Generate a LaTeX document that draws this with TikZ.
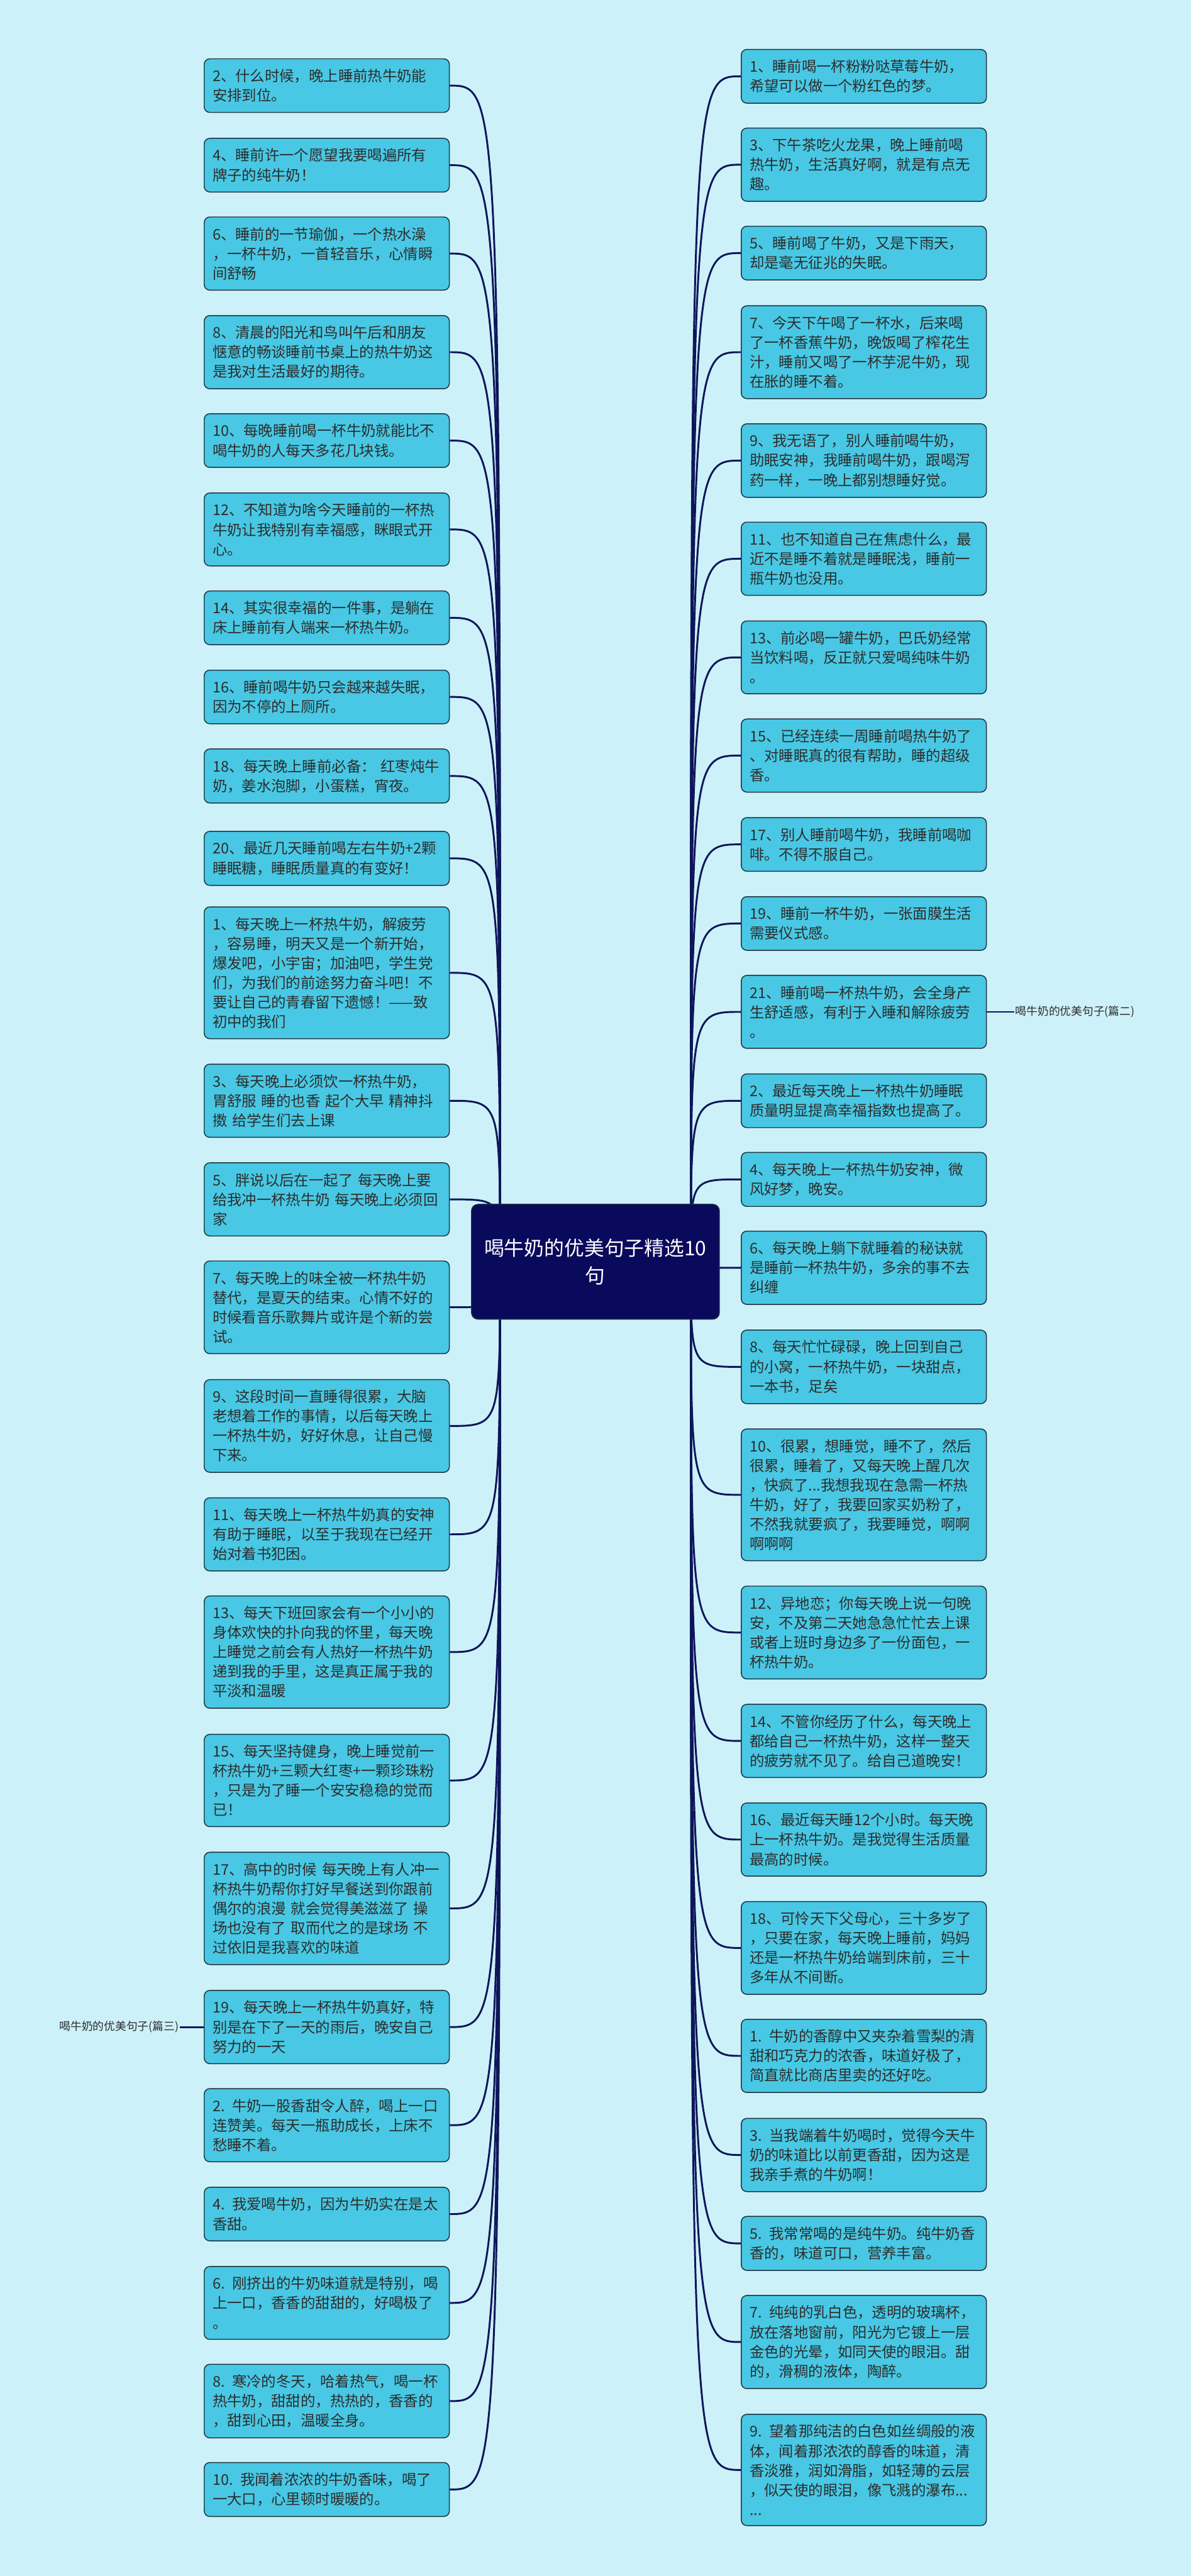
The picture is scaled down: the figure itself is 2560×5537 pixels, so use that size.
\documentclass[tikz,border=0pt]{standalone}
\usepackage{fontspec}
\usepackage{tikz}
\newfontfamily\cjk{Noto Sans CJK SC}
\definecolor{bgcyan}{RGB}{205,241,249}
\definecolor{leafcyan}{RGB}{72,200,228}
\definecolor{leafline}{RGB}{30,52,64}
\definecolor{linknavy}{RGB}{14,22,90}
\definecolor{rootnavy}{RGB}{10,10,92}
\definecolor{inkgray}{RGB}{45,45,45}

\begin{document}
\begin{tikzpicture}[x=0.5pt,y=-0.5pt,
    leaf/.style={draw=leafline, line width=1pt, fill=leafcyan, rounded corners=6pt,
        text=inkgray, font=\cjk\fontsize{15.8}{21}\selectfont, align=left,
        text width=245.5pt, inner xsep=9pt, inner ysep=11pt},
    root/.style={draw=leafline, line width=0.9pt, fill=rootnavy, rounded corners=7pt,
        text=white, font=\cjk\fontsize{21.5}{30}\selectfont, align=center,
        minimum width=266.5pt, minimum height=123.5pt},
    tag/.style={font=\cjk\fontsize{12}{14}\selectfont, text=inkgray, inner sep=1pt},
    link/.style={draw=linknavy, line width=2pt}]

    % Page and background
    \useasboundingbox (0,0) rectangle (2560,5537);
    \fill[bgcyan] (0,0) rectangle (2560,5537);

    % Left column
    \foreach \i/\y/\t in {
        1/184/{2、什么时候，晚上睡前热牛奶能\\安排到位。},
        2/355/{4、睡前许一个愿望我要喝遍所有\\牌子的纯牛奶！},
        3/545/{6、睡前的一节瑜伽，一个热水澡\\，一杯牛奶，一首轻音乐，心情瞬\\间舒畅},
        4/757/{8、清晨的阳光和鸟叫午后和朋友\\惬意的畅谈睡前书桌上的热牛奶这\\是我对生活最好的期待。},
        5/947/{10、每晚睡前喝一杯牛奶就能比不\\喝牛奶的人每天多花几块钱。},
        6/1138/{12、不知道为啥今天睡前的一杯热\\牛奶让我特别有幸福感，眯眼式开\\心。},
        7/1328/{14、其实很幸福的一件事，是躺在\\床上睡前有人端来一杯热牛奶。},
        8/1498/{16、睡前喝牛奶只会越来越失眠，\\因为不停的上厕所。},
        9/1668/{18、每天晚上睡前必备： 红枣炖牛\\奶，姜水泡脚，小蛋糕，宵夜。},
        10/1845/{20、最近几天睡前喝左右牛奶+2颗\\睡眠糖，睡眠质量真的有变好！},
        11/2091/{1、每天晚上一杯热牛奶，解疲劳\\，容易睡，明天又是一个新开始，\\爆发吧，小宇宙；加油吧，学生党\\们，为我们的前途努力奋斗吧！不\\要让自己的青春留下遗憾！——致\\初中的我们},
        12/2366/{3、每天晚上必须饮一杯热牛奶，\\胃舒服 睡的也香 起个大早 精神抖\\擞 给学生们去上课},
        13/2578/{5、胖说以后在一起了 每天晚上要\\给我冲一杯热牛奶 每天晚上必须回\\家},
        14/2810/{7、每天晚上的味全被一杯热牛奶\\替代，是夏天的结束。心情不好的\\时候看音乐歌舞片或许是个新的尝\\试。},
        15/3065/{9、这段时间一直睡得很累，大脑\\老想着工作的事情，以后每天晚上\\一杯热牛奶，好好休息，让自己慢\\下来。},
        16/3298/{11、每天晚上一杯热牛奶真的安神\\有助于睡眠，以至于我现在已经开\\始对着书犯困。},
        17/3551/{13、每天下班回家会有一个小小的\\身体欢快的扑向我的怀里，每天晚\\上睡觉之前会有人热好一杯热牛奶\\递到我的手里，这是真正属于我的\\平淡和温暖},
        18/3827/{15、每天坚持健身，晚上睡觉前一\\杯热牛奶+三颗大红枣+一颗珍珠粉\\，只是为了睡一个安安稳稳的觉而\\已！},
        19/4102/{17、高中的时候 每天晚上有人冲一\\杯热牛奶帮你打好早餐送到你跟前\\偶尔的浪漫 就会觉得美滋滋了 操\\场也没有了 取而代之的是球场 不\\过依旧是我喜欢的味道},
        20/4357/{19、每天晚上一杯热牛奶真好，特\\别是在下了一天的雨后，晚安自己\\努力的一天},
        21/4568/{2. 牛奶一股香甜令人醉，喝上一口\\连赞美。每天一瓶助成长，上床不\\愁睡不着。},
        22/4759/{4. 我爱喝牛奶，因为牛奶实在是太\\香甜。},
        23/4950/{6. 刚挤出的牛奶味道就是特别，喝\\上一口，香香的甜甜的，好喝极了\\。},
        24/5161/{8. 寒冷的冬天，哈着热气，喝一杯\\热牛奶，甜甜的，热热的，香香的\\，甜到心田，温暖全身。},
        25/5351/{10. 我闻着浓浓的牛奶香味，喝了\\一大口，心里顿时暖暖的。}} {
        \node[leaf] (L\i) at (702.5,\y) {\t};
    }

    % Right column
    \foreach \i/\y/\t in {
        1/164/{1、睡前喝一杯粉粉哒草莓牛奶，\\希望可以做一个粉红色的梦。},
        2/354/{3、下午茶吃火龙果，晚上睡前喝\\热牛奶，生活真好啊，就是有点无\\趣。},
        3/544/{5、睡前喝了牛奶，又是下雨天，\\却是毫无征兆的失眠。},
        4/757/{7、今天下午喝了一杯水，后来喝\\了一杯香蕉牛奶，晚饭喝了榨花生\\汁，睡前又喝了一杯芋泥牛奶，现\\在胀的睡不着。},
        5/990/{9、我无语了，别人睡前喝牛奶，\\助眠安神，我睡前喝牛奶，跟喝泻\\药一样，一晚上都别想睡好觉。},
        6/1201/{11、也不知道自己在焦虑什么，最\\近不是睡不着就是睡眠浅，睡前一\\瓶牛奶也没用。},
        7/1413/{13、前必喝一罐牛奶，巴氏奶经常\\当饮料喝，反正就只爱喝纯味牛奶\\。},
        8/1624/{15、已经连续一周睡前喝热牛奶了\\、对睡眠真的很有帮助，睡的超级\\香。},
        9/1815/{17、别人睡前喝牛奶，我睡前喝咖\\啡。不得不服自己。},
        10/1985/{19、睡前一杯牛奶，一张面膜生活\\需要仪式感。},
        11/2175/{21、睡前喝一杯热牛奶，会全身产\\生舒适感，有利于入睡和解除疲劳\\。},
        12/2366/{2、最近每天晚上一杯热牛奶睡眠\\质量明显提高幸福指数也提高了。},
        13/2535/{4、每天晚上一杯热牛奶安神，微\\风好梦，晚安。},
        14/2725/{6、每天晚上躺下就睡着的秘诀就\\是睡前一杯热牛奶，多余的事不去\\纠缠},
        15/2938/{8、每天忙忙碌碌，晚上回到自己\\的小窝，一杯热牛奶，一块甜点，\\一本书，足矣},
        16/3213/{10、很累，想睡觉，睡不了，然后\\很累，睡着了，又每天晚上醒几次\\，快疯了...我想我现在急需一杯热\\牛奶，好了，我要回家买奶粉了，\\不然我就要疯了，我要睡觉，啊啊\\啊啊啊},
        17/3509/{12、异地恋；你每天晚上说一句晚\\安，不及第二天她急急忙忙去上课\\或者上班时身边多了一份面包，一\\杯热牛奶。},
        18/3742/{14、不管你经历了什么，每天晚上\\都给自己一杯热牛奶，这样一整天\\的疲劳就不见了。给自己道晚安！},
        19/3954/{16、最近每天睡12个小时。每天晚\\上一杯热牛奶。是我觉得生活质量\\最高的时候。},
        20/4187/{18、可怜天下父母心，三十多岁了\\，只要在家，每天晚上睡前，妈妈\\还是一杯热牛奶给端到床前，三十\\多年从不间断。},
        21/4419/{1. 牛奶的香醇中又夹杂着雪梨的清\\甜和巧克力的浓香，味道好极了，\\简直就比商店里卖的还好吃。},
        22/4632/{3. 当我端着牛奶喝时，觉得今天牛\\奶的味道比以前更香甜，因为这是\\我亲手煮的牛奶啊！},
        23/4822/{5. 我常常喝的是纯牛奶。纯牛奶香\\香的，味道可口，营养丰富。},
        24/5034/{7. 纯纯的乳白色，透明的玻璃杯，\\放在落地窗前，阳光为它镀上一层\\金色的光晕，如同天使的眼泪。甜\\的，滑稠的液体，陶醉。},
        25/5309/{9. 望着那纯洁的白色如丝绸般的液\\体，闻着那浓浓的醇香的味道，清\\香淡雅，润如滑脂，如轻薄的云层\\，似天使的眼泪，像飞溅的瀑布...\\...}} {
        \node[leaf] (R\i) at (1857,\y) {\t};
    }

    % Draw links from the root
    \coordinate (hubL) at (1075,2712);
    \coordinate (hubR) at (1485,2712);
    \foreach \i in {1,...,25} {
        \draw[link] (hubL) .. controls (hubL |- L\i.east) .. (L\i.east);
        \draw[link] (hubR) .. controls (hubR |- R\i.west) .. (R\i.west);
    }

    \node[root] (root) at (1280,2712) {喝牛奶的优美句子精选10\\句};

    % Group tags
    \node[tag] (tagR) at (2311,2175) {喝牛奶的优美句子(篇二)};
    \node[tag] (tagL) at (256,4357) {喝牛奶的优美句子(篇三)};
    \draw[link] (R11.east) -- (tagR.west);
    \draw[link] (L20.west) -- (tagL.east);
\end{tikzpicture}
\end{document}
